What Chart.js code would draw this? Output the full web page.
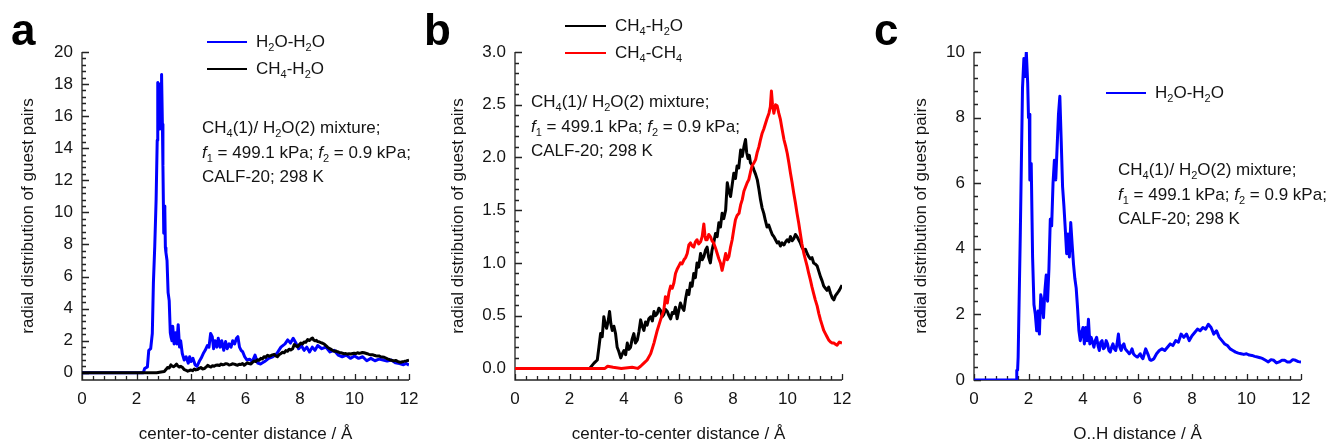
<!DOCTYPE html>
<html>
<head>
<meta charset="utf-8">
<script src="https://cdn.jsdelivr.net/npm/chart.js@4.4.1/dist/chart.umd.min.js"></script>
<style>
  html, body { margin: 0; padding: 0; background: #fff; }
  body { width: 1333px; height: 446px; position: relative; overflow: hidden;
         font-family: 'Liberation Sans', Arial, sans-serif; color: #141414; }
  canvas { position: absolute; top: 0; }
  .note { position: absolute; font-size: 17px; line-height: 24.5px; white-space: nowrap; }
  .lg-text { position: absolute; font-size: 17px; line-height: 20px; white-space: nowrap; }
  .lg-line { position: absolute; height: 2px; }
  .letter { position: absolute; top: 8px; font-size: 44px; font-weight: bold; line-height: 44px; color: #000; }
  sub { font-size: 11px; vertical-align: -4px; line-height: 0; }
</style>
</head>
<body>
<canvas id="panelA" width="444" height="446" style="left:0"></canvas>
<canvas id="panelB" width="444" height="446" style="left:444px"></canvas>
<canvas id="panelC" width="445" height="446" style="left:888px"></canvas>

<div class="letter" style="left:11px">a</div>
<div class="letter" style="left:424px">b</div>
<div class="letter" style="left:874px">c</div>

<!-- panel a legend + note -->
<div class="lg-line" style="left:207px;top:41px;width:40px;background:#0000ff"></div>
<div class="lg-text" style="left:256px;top:32px">H<sub>2</sub>O-H<sub>2</sub>O</div>
<div class="lg-line" style="left:207px;top:68px;width:40px;background:#000"></div>
<div class="lg-text" style="left:256px;top:59px">CH<sub>4</sub>-H<sub>2</sub>O</div>
<div class="note" style="left:202px;top:116px">CH<sub>4</sub>(1)/ H<sub>2</sub>O(2) mixture;<br><i>f</i><sub>1</sub> = 499.1 kPa; <i>f</i><sub>2</sub> = 0.9 kPa;<br>CALF-20; 298 K</div>

<!-- panel b legend + note -->
<div class="lg-line" style="left:565px;top:25px;width:41px;background:#000"></div>
<div class="lg-text" style="left:615px;top:16px">CH<sub>4</sub>-H<sub>2</sub>O</div>
<div class="lg-line" style="left:565px;top:52px;width:41px;background:#ff0000"></div>
<div class="lg-text" style="left:615px;top:43px">CH<sub>4</sub>-CH<sub>4</sub></div>
<div class="note" style="left:531px;top:90px">CH<sub>4</sub>(1)/ H<sub>2</sub>O(2) mixture;<br><i>f</i><sub>1</sub> = 499.1 kPa; <i>f</i><sub>2</sub> = 0.9 kPa;<br>CALF-20; 298 K</div>

<!-- panel c legend + note -->
<div class="lg-line" style="left:1106px;top:92px;width:40px;background:#0000ff"></div>
<div class="lg-text" style="left:1155px;top:83px">H<sub>2</sub>O-H<sub>2</sub>O</div>
<div class="note" style="left:1118px;top:158px">CH<sub>4</sub>(1)/ H<sub>2</sub>O(2) mixture;<br><i>f</i><sub>1</sub> = 499.1 kPa; <i>f</i><sub>2</sub> = 0.9 kPa;<br>CALF-20; 298 K</div>

<script>
// ---- data: [distance, g] pairs ----
const h2oH2oCenter = [
  [0,0],[2.25,0],[2.3,0.27],[2.4,0.37],[2.45,1.4],[2.52,1.5],[2.58,2.45],[2.62,5.6],[2.67,7.9],
  [2.72,10.8],[2.76,14.5],[2.78,18.1],[2.81,17.6],[2.83,18.0],[2.86,15.2],[2.88,16.0],[2.9,17.5],
  [2.92,18.6],[2.95,15.5],[2.97,12.9],[3.0,8.7],[3.02,10.4],[3.04,10.1],[3.06,7.8],[3.08,7.5],
  [3.12,7.0],[3.16,5.0],[3.2,4.5],[3.24,2.5],[3.27,2.2],[3.3,2.0],[3.33,2.9],[3.38,1.8],[3.43,2.5],
  [3.48,1.8],[3.53,3.0],[3.58,1.6],[3.62,2.0],[3.68,1.2],[3.75,0.8],[3.82,1.0],[3.9,0.6],[3.95,1.0],
  [4.0,0.7],[4.07,0.9],[4.15,0.5],[4.22,0.4],[4.3,0.7],[4.37,0.9],[4.45,1.2],[4.52,1.4],[4.6,1.7],
  [4.66,1.6],[4.72,2.45],[4.78,2.25],[4.83,1.5],[4.88,2.0],[4.95,1.6],[5.0,2.15],[5.07,1.6],
  [5.13,2.0],[5.2,1.4],[5.27,1.95],[5.33,1.5],[5.4,1.8],[5.47,1.6],[5.53,2.0],[5.6,1.8],[5.67,2.15],
  [5.72,2.25],[5.78,1.6],[5.84,1.4],[5.9,1.3],[5.97,1.0],[6.05,0.8],[6.15,0.85],[6.25,0.7],
  [6.35,1.1],[6.45,0.6],[6.55,0.55],[6.7,0.7],[6.85,0.9],[7.0,1.0],[7.15,1.2],[7.3,1.6],[7.45,1.8],
  [7.55,2.05],[7.65,1.85],[7.75,2.15],[7.85,1.85],[7.95,1.5],[8.05,1.7],[8.15,1.4],[8.25,1.6],
  [8.35,1.3],[8.45,1.6],[8.55,1.4],[8.65,1.7],[8.8,1.5],[8.95,1.6],[9.1,1.3],[9.25,1.4],[9.4,1.1],
  [9.55,1.0],[9.7,1.1],[9.85,0.9],[10.0,1.05],[10.15,0.9],[10.3,1.0],[10.45,0.75],[10.6,0.9],
  [10.75,0.75],[10.9,0.85],[11.05,0.8],[11.2,0.73],[11.35,0.8],[11.5,0.62],[11.65,0.58],[11.8,0.5],
  [11.9,0.58],[12.0,0.48]
];

const ch4H2oCenter = [
  [0,0],[2.74,0],[2.9,0.05],[3.02,0.08],[3.08,0.2],[3.14,0.33],[3.2,0.3],[3.26,0.49],[3.31,0.42],
  [3.36,0.38],[3.42,0.45],[3.47,0.54],[3.52,0.42],[3.57,0.36],[3.63,0.4],[3.69,0.33],[3.75,0.2],
  [3.81,0.16],[3.88,0.1],[3.94,0.14],[4.0,0.17],[4.06,0.13],[4.12,0.24],[4.18,0.18],[4.24,0.2],
  [4.3,0.28],[4.36,0.33],[4.42,0.24],[4.49,0.27],[4.55,0.35],[4.61,0.46],[4.67,0.4],[4.73,0.36],
  [4.79,0.44],[4.85,0.41],[4.91,0.47],[4.98,0.49],[5.04,0.45],[5.1,0.54],[5.16,0.5],[5.22,0.52],
  [5.28,0.57],[5.34,0.55],[5.4,0.49],[5.46,0.51],[5.52,0.56],[5.59,0.54],[5.65,0.5],[5.71,0.47],
  [5.77,0.53],[5.83,0.52],[5.89,0.58],[5.95,0.47],[6.01,0.55],[6.07,0.62],[6.13,0.58],[6.2,0.55],
  [6.26,0.66],[6.32,0.74],[6.38,0.7],[6.44,0.81],[6.5,0.78],[6.56,0.9],[6.62,0.86],[6.68,1.0],
  [6.74,0.96],[6.81,1.09],[6.87,1.03],[6.93,1.06],[6.99,1.12],[7.05,1.15],[7.11,1.05],[7.17,1.0],
  [7.23,1.12],[7.3,1.2],[7.36,1.28],[7.42,1.25],[7.48,1.38],[7.54,1.34],[7.6,1.47],[7.66,1.42],
  [7.73,1.5],[7.79,1.76],[7.85,1.68],[7.91,1.63],[7.97,1.74],[8.03,1.85],[8.09,1.8],[8.15,1.92],
  [8.21,1.9],[8.28,2.07],[8.34,2.01],[8.4,2.1],[8.46,2.17],[8.5,2.05],[8.55,1.99],[8.6,2.02],
  [8.64,1.95],[8.7,1.93],[8.77,1.88],[8.83,1.84],[8.89,1.79],[8.95,1.7],[9.01,1.6],[9.07,1.52],
  [9.13,1.47],[9.19,1.4],[9.25,1.34],[9.31,1.36],[9.38,1.31],[9.44,1.27],[9.5,1.25],[9.56,1.22],
  [9.62,1.19],[9.68,1.2],[9.74,1.16],[9.8,1.19],[9.87,1.17],[9.93,1.2],[9.99,1.22],[10.05,1.2],
  [10.11,1.25],[10.17,1.21],[10.23,1.23],[10.29,1.27],[10.35,1.25],[10.41,1.22],[10.47,1.19],
  [10.53,1.15],[10.6,1.12],[10.66,1.13],[10.72,1.09],[10.78,1.06],[10.84,1.04],[10.9,1.05],
  [10.96,1.0],[11.02,0.99],[11.09,0.97],[11.15,0.92],[11.21,0.87],[11.27,0.83],[11.33,0.78],
  [11.39,0.76],[11.45,0.74],[11.51,0.77],[11.58,0.71],[11.64,0.67],[11.7,0.65],[11.76,0.69],
  [11.82,0.71],[11.9,0.74],[12.0,0.79]
];

const ch4Ch4Center = [
  [0,0],[3.3,0],[3.4,0.02],[3.6,0.01],[3.9,0.0],[4.3,0.01],[4.5,0.0],[4.61,0.02],[4.73,0.05],
  [4.85,0.08],[4.98,0.14],[5.1,0.24],[5.22,0.36],[5.34,0.46],[5.46,0.55],[5.52,0.68],[5.59,0.62],
  [5.65,0.72],[5.71,0.78],[5.77,0.76],[5.83,0.81],[5.89,0.9],[5.95,0.94],[6.01,0.97],[6.07,1.0],
  [6.13,0.99],[6.2,1.03],[6.26,1.05],[6.32,1.09],[6.38,1.17],[6.44,1.19],[6.5,1.16],[6.56,1.15],
  [6.62,1.2],[6.68,1.22],[6.74,1.18],[6.81,1.2],[6.87,1.25],[6.93,1.37],[6.97,1.26],[7.0,1.22],
  [7.05,1.22],[7.11,1.27],[7.17,1.25],[7.23,1.21],[7.29,1.19],[7.36,1.14],[7.42,1.09],[7.48,1.04],
  [7.54,1.0],[7.6,0.93],[7.66,1.0],[7.73,1.09],[7.79,1.03],[7.85,1.06],[7.91,1.15],[7.97,1.22],
  [8.03,1.32],[8.09,1.41],[8.15,1.45],[8.22,1.47],[8.28,1.55],[8.34,1.6],[8.4,1.68],[8.46,1.72],
  [8.52,1.76],[8.58,1.79],[8.64,1.86],[8.7,1.92],[8.77,1.95],[8.83,1.98],[8.89,2.05],[8.95,2.1],
  [9.01,2.17],[9.07,2.23],[9.13,2.27],[9.19,2.32],[9.25,2.37],[9.32,2.42],[9.37,2.48],[9.41,2.63],
  [9.45,2.5],[9.5,2.42],[9.56,2.5],[9.62,2.49],[9.68,2.42],[9.74,2.36],[9.8,2.27],[9.87,2.17],
  [9.93,2.11],[9.99,2.04],[10.05,1.95],[10.11,1.85],[10.17,1.76],[10.23,1.66],[10.29,1.57],
  [10.35,1.47],[10.41,1.38],[10.47,1.28],[10.53,1.18],[10.6,1.09],[10.66,1.03],[10.72,0.97],
  [10.78,0.9],[10.84,0.84],[10.9,0.77],[10.96,0.71],[11.02,0.65],[11.09,0.59],[11.15,0.52],
  [11.21,0.46],[11.27,0.41],[11.33,0.36],[11.39,0.33],[11.45,0.3],[11.51,0.27],[11.58,0.25],
  [11.64,0.24],[11.7,0.24],[11.76,0.23],[11.82,0.22],[11.9,0.25],[12.0,0.24]
];

const h2oH2oOH = [
  [0,0],[1.55,0],[1.57,0.3],[1.6,0.3],[1.62,0.7],[1.7,4.5],[1.78,8.9],[1.83,9.8],[1.87,9.25],
  [1.92,10.0],[1.97,9.05],[2.0,8.0],[2.03,8.1],[2.05,6.1],[2.1,6.6],[2.15,3.75],[2.2,2.3],[2.25,2.0],
  [2.3,1.5],[2.35,2.1],[2.4,1.4],[2.45,2.6],[2.5,2.4],[2.55,1.9],[2.6,2.7],[2.65,3.2],[2.7,2.4],
  [2.75,3.4],[2.8,4.9],[2.85,4.7],[2.9,6.0],[2.95,6.7],[3.0,6.1],[3.05,7.1],[3.1,8.1],[3.15,8.65],
  [3.2,7.3],[3.25,5.9],[3.3,5.3],[3.35,4.6],[3.4,3.85],[3.45,4.45],[3.5,3.75],[3.55,4.8],[3.6,4.15],
  [3.65,3.55],[3.7,3.1],[3.75,2.8],[3.8,2.2],[3.85,1.5],[3.9,1.2],[3.95,1.45],[4.0,1.6],[4.05,1.1],
  [4.1,1.6],[4.15,1.2],[4.2,1.85],[4.25,1.1],[4.3,1.3],[4.35,1.15],[4.4,1.0],[4.45,1.2],[4.5,1.3],
  [4.55,1.05],[4.6,0.9],[4.65,1.15],[4.7,1.2],[4.75,0.95],[4.8,1.0],[4.85,1.2],[4.9,1.1],[4.95,0.9],
  [5.0,0.85],[5.05,1.0],[5.1,1.1],[5.15,0.95],[5.2,0.9],[5.25,1.1],[5.3,1.4],[5.35,1.0],[5.4,0.9],
  [5.45,1.05],[5.5,1.1],[5.55,0.95],[5.6,0.9],[5.65,0.85],[5.7,0.8],[5.75,0.85],[5.8,0.95],
  [5.85,0.8],[5.9,0.75],[5.95,0.72],[6.0,0.7],[6.05,0.75],[6.1,0.8],[6.15,0.7],[6.2,0.65],[6.25,0.8],
  [6.3,0.95],[6.35,0.85],[6.4,0.75],[6.45,0.62],[6.5,0.6],[6.55,0.62],[6.6,0.65],[6.7,0.8],[6.8,0.9],
  [6.9,0.95],[7.0,0.9],[7.1,1.0],[7.2,1.1],[7.3,1.05],[7.4,1.2],[7.5,1.15],[7.6,1.4],[7.7,1.3],
  [7.8,1.4],[7.9,1.2],[8.0,1.35],[8.1,1.45],[8.2,1.55],[8.3,1.5],[8.4,1.6],[8.5,1.55],[8.6,1.7],
  [8.7,1.6],[8.8,1.4],[8.9,1.5],[9.0,1.3],[9.1,1.2],[9.2,1.1],[9.3,1.05],[9.4,0.95],[9.5,0.9],
  [9.6,0.85],[9.7,0.82],[9.8,0.8],[9.9,0.78],[10.0,0.8],[10.1,0.76],[10.2,0.75],[10.3,0.72],
  [10.4,0.7],[10.5,0.68],[10.6,0.65],[10.7,0.6],[10.8,0.55],[10.9,0.62],[11.0,0.6],[11.1,0.52],
  [11.2,0.55],[11.3,0.6],[11.4,0.6],[11.5,0.55],[11.6,0.55],[11.7,0.62],[11.8,0.6],[11.9,0.56],
  [12.0,0.55]
];

// axis tick labels
const xTicks = [0, 2, 4, 6, 8, 10, 12];
const yTicksA = [0, 2, 4, 6, 8, 10, 12, 14, 16, 18, 20];
const yTicksB = [0, 0.5, 1.0, 1.5, 2.0, 2.5, 3.0];
const yTicksC = [0, 2, 4, 6, 8, 10];

const TEXT = '#141414';
const FONT = { family: "'Liberation Sans', Arial, sans-serif", size: 17 };
const yTitle = 'radial distribution of guest pairs';

// inward major/minor tick marks + axis lines, drawn under the curves
const axisMarks = {
  id: 'axisMarks',
  beforeDatasetsDraw(chart, args, o) {
    const { ctx, chartArea: a, scales: { x, y } } = chart;
    ctx.save();
    ctx.strokeStyle = '#222';
    ctx.lineWidth = 1.3;
    ctx.beginPath();
    ctx.moveTo(a.left, a.top);
    ctx.lineTo(a.left, a.bottom);
    ctx.lineTo(a.right, a.bottom);
    for (let i = 0; i <= 30; i++) {
      const px = Math.round(x.getPixelForValue(i * 0.4)) + 0.5;
      const len = i % 5 === 0 ? 6 : 4;
      ctx.moveTo(px, a.bottom);
      ctx.lineTo(px, a.bottom - len);
    }
    for (let i = 0; i <= o.yCount; i++) {
      const py = Math.round(y.getPixelForValue(i * o.yMinor)) + 0.5;
      const len = i % o.yMajorEvery === 0 ? 7 : 4;
      ctx.moveTo(a.left, py);
      ctx.lineTo(a.left + len, py);
    }
    ctx.stroke();
    ctx.restore();
  }
};

function buildPanel(id, cfg) {
  return new Chart(document.getElementById(id), {
    type: 'line',
    data: {
      datasets: cfg.series.map(s => ({
        data: s.pts.map(p => ({ x: p[0], y: p[1] })),
        borderColor: s.color,
        borderWidth: 3,
        pointRadius: 0,
        tension: 0,
        fill: false,
        borderJoinStyle: 'round'
      }))
    },
    options: {
      responsive: false,
      animation: false,
      events: [],
      layout: { padding: { top: 52, right: cfg.padRight, left: 0, bottom: 0 } },
      plugins: {
        legend: { display: false },
        tooltip: { enabled: false },
        axisMarks: cfg.marks
      },
      scales: {
        x: {
          type: 'linear',
          min: 0,
          max: 12,
          afterFit: s => { s.height = 66; },
          afterBuildTicks: s => { s.ticks = xTicks.map(v => ({ value: v })); },
          grid: { display: false, drawTicks: false },
          border: { display: false },
          ticks: { padding: 9, font: FONT, color: TEXT, maxRotation: 0, autoSkip: false },
          title: { display: true, text: cfg.xTitle, font: FONT, color: TEXT, padding: { top: 0, bottom: 1 } }
        },
        y: {
          type: 'linear',
          min: cfg.yMin,
          max: cfg.yMax,
          afterFit: s => { s.width = cfg.yWidth; },
          afterBuildTicks: s => { s.ticks = cfg.yTicks.map(v => ({ value: v })); },
          grid: { display: false, drawTicks: false },
          border: { display: false },
          ticks: { padding: 9, font: FONT, color: TEXT, autoSkip: false, callback: cfg.fmt },
          title: { display: true, text: yTitle, font: FONT, color: TEXT, padding: { top: cfg.yTitlePad, bottom: 0 } }
        }
      }
    },
    plugins: [axisMarks]
  });
}

const intFmt = v => String(v);

buildPanel('panelA', {
  series: [
    { pts: ch4H2oCenter, color: '#000000' },
    { pts: h2oH2oCenter, color: '#0000ff' }
  ],
  xTitle: 'center-to-center distance / Å',
  yMin: -0.45, yMax: 20, yTicks: yTicksA, fmt: intFmt,
  yWidth: 82, padRight: 35, yTitlePad: 18,
  marks: { yMinor: 0.4, yCount: 50, yMajorEvery: 5 }
});

buildPanel('panelB', {
  series: [
    { pts: ch4Ch4Center, color: '#ff0000' },
    { pts: ch4H2oCenter, color: '#000000' }
  ],
  xTitle: 'center-to-center distance / Å',
  yMin: -0.11, yMax: 3.0, yTicks: yTicksB, fmt: v => Number(v).toFixed(1),
  yWidth: 71, padRight: 46, yTitlePad: 4,
  marks: { yMinor: 0.1, yCount: 30, yMajorEvery: 5 }
});

buildPanel('panelC', {
  series: [
    { pts: h2oH2oOH, color: '#0000ff' }
  ],
  xTitle: 'O..H distance / Å',
  yMin: 0, yMax: 10, yTicks: yTicksC, fmt: intFmt,
  yWidth: 86, padRight: 32, yTitlePad: 23,
  marks: { yMinor: 0.4, yCount: 25, yMajorEvery: 5 }
});
</script>
</body>
</html>
